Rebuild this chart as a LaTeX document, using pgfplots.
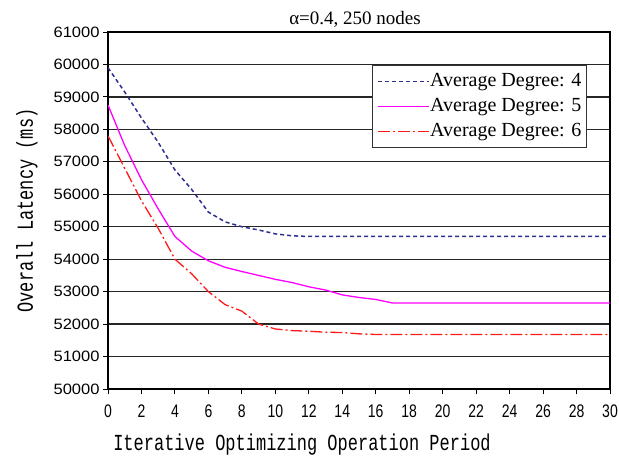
\documentclass[border=0pt]{standalone}
\usepackage{fontspec}
\setmainfont{Liberation Serif}
\newfontfamily\tickfont{Liberation Sans}
\newfontfamily\labelfont{Liberation Mono}
\usepackage{pgfplots}
\pgfplotsset{compat=1.18}
\usetikzlibrary{calc}

\definecolor{degfour}{HTML}{2E2E8F}
\definecolor{degfive}{HTML}{FF00FF}
\definecolor{degsix}{HTML}{FF1A1A}

\begin{document}
\begin{tikzpicture}
\begin{axis}[
  scale only axis,
  width=502pt, height=357pt,
  xmin=0, xmax=30, ymin=50000, ymax=61000,
  xtick={0,2,...,30},
  ytick={50000,51000,...,61000},
  scaled y ticks=false,
  /pgf/number format/assume math mode=true,
  yticklabel={\scalebox{1.1}[1]{\pgfmathprintnumber[1000 sep={}]{\tick}}},
  xticklabel={\scalebox{1}[1.3]{\pgfmathprintnumber{\tick}}},
  yticklabel style={font=\tickfont\fontsize{15}{15}\selectfont},
  xticklabel style={font=\tickfont\fontsize{14}{14}\selectfont, yshift=-7pt},
  tick align=outside,
  xtick pos=bottom, ytick pos=left,
  major tick length=5pt,
  tick style={black, line width=1pt},
  axis line style={black, line width=1.3pt},
  ymajorgrids,
  grid style={black!85, line width=1.2pt},
  title={α=0.4, 250 nodes},
  title style={font=\fontsize{19}{19}\selectfont, yshift=-5pt, xshift=-4pt},
  xlabel={\scalebox{1}[1.35]{Iterative Optimizing Operation Period}},
  ylabel={\scalebox{1}[1.35]{Overall Latency (ms)}},
  xlabel style={font=\labelfont\fontsize{17}{17}\selectfont, xshift=-57pt, yshift=-10pt},
  ylabel style={font=\labelfont\fontsize{17}{17}\selectfont, yshift=9pt},
  legend style={at={(0.954,0.908)}, anchor=north east, draw=black!80, line width=1pt,
    font=\fontsize{20}{20}\selectfont, inner xsep=5pt, inner ysep=5pt, row sep=3pt,
    nodes={inner xsep=0pt, inner ysep=1pt, text height=15pt, text depth=5pt}},
  legend cell align=left,
  legend image code/.code={\draw[#1] (0pt,0pt) -- (51pt,0pt);},
]
\addplot[degfour, line width=1.5pt, dash pattern=on 4pt off 3pt] coordinates {
  (0,59900) (1,59150) (2,58350) (3,57600) (4,56750) (5,56150) (6,55450)
  (7,55150) (8,55000) (9,54900) (10,54780) (11,54720) (12,54700) (14,54700)
  (16,54700) (18,54700) (20,54700) (22,54700) (24,54700) (26,54700) (28,54700) (30,54700)
};
\addlegendentry{Average Degree: 4}
\addplot[degfive, line width=1.3pt] coordinates {
  (0,58750) (1,57500) (2,56450) (3,55550) (4,54700) (5,54250) (6,53950)
  (7,53750) (8,53620) (9,53500) (10,53380) (11,53280) (12,53150) (13,53050)
  (14,52900) (15,52820) (16,52760) (17,52650) (18,52650) (20,52650) (22,52650)
  (24,52650) (26,52650) (28,52650) (30,52650)
};
\addlegendentry{Average Degree: 5}
\addplot[degsix, line width=1.3pt, dash pattern=on 12pt off 3pt on 2pt off 3pt] coordinates {
  (0,57800) (1,56800) (2,55800) (3,54950) (4,54000) (5,53550) (6,53000)
  (7,52600) (8,52400) (9,52000) (10,51850) (11,51800) (12,51780) (13,51750)
  (14,51740) (15,51700) (16,51680) (18,51680) (20,51680) (22,51680) (24,51680)
  (26,51680) (28,51680) (30,51680)
};
\addlegendentry{Average Degree: 6}
\end{axis}
\pgfresetboundingbox
\path[use as bounding box] ($(current axis.south west)+(-108pt,-70pt)$) rectangle ($(current axis.north east)+(9pt,32pt)$);
\end{tikzpicture}
\end{document}
